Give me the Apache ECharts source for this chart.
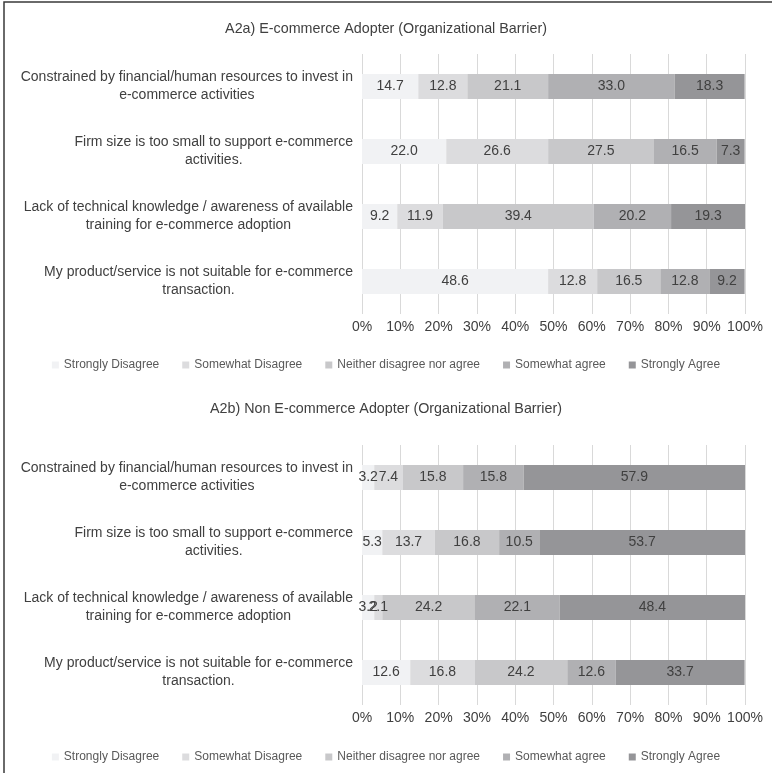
<!DOCTYPE html>
<html>
<head>
<meta charset="utf-8">
<script src="https://cdn.jsdelivr.net/npm/echarts@6/dist/echarts.min.js"></script>
<style>
html,body{margin:0;padding:0;background:#fff;}
#c{width:772px;height:773px;}
</style>
</head>
<body>
<div id="c"></div>
<script>
var categories = [
  "Constrained by financial/human resources to invest in\ne-commerce activities",
  "Firm size is too small to support e-commerce\nactivities.",
  "Lack of technical knowledge / awareness of available\ntraining for e-commerce adoption",
  "My product/service is not suitable for e-commerce\ntransaction."
];
var levels = ["Strongly Disagree", "Somewhat Disagree", "Neither disagree nor agree", "Somewhat agree", "Strongly Agree"];
var titles = ["A2a) E-commerce Adopter (Organizational Barrier)", "A2b) Non E-commerce Adopter (Organizational Barrier)"];
var xTicks = [0, 10, 20, 30, 40, 50, 60, 70, 80, 90, 100];

// Panel A2a (adopters)
var adoptStronglyDisagree = [14.7, 22.0, 9.2, 48.6];
var adoptSomewhatDisagree = [12.8, 26.6, 11.9, 12.8];
var adoptNeither = [21.1, 27.5, 39.4, 16.5];
var adoptSomewhatAgree = [33.0, 16.5, 20.2, 12.8];
var adoptStronglyAgree = [18.3, 7.3, 19.3, 9.2];

// Panel A2b (non adopters)
var nonStronglyDisagree = [3.2, 5.3, 3.2, 12.6];
var nonSomewhatDisagree = [7.4, 13.7, 2.1, 16.8];
var nonNeither = [15.8, 16.8, 24.2, 24.2];
var nonSomewhatAgree = [15.8, 10.5, 22.1, 12.6];
var nonStronglyAgree = [57.9, 53.7, 48.4, 33.7];

var panels = [
  [adoptStronglyDisagree, adoptSomewhatDisagree, adoptNeither, adoptSomewhatAgree, adoptStronglyAgree],
  [nonStronglyDisagree, nonSomewhatDisagree, nonNeither, nonSomewhatAgree, nonStronglyAgree]
];
var colors = ["#f1f2f4", "#dcdcde", "#c8c8ca", "#b0b0b3", "#959598"];
var font = "Liberation Sans, Arial, sans-serif";
var textColor = "#404040";

var gridTops = [54, 445];
var gridH = 260;

var series = [];
panels.forEach(function (pd, p) {
  pd.forEach(function (vals, i) {
    series.push({
      type: 'bar',
      name: levels[i],
      stack: 'p' + p,
      xAxisIndex: p,
      yAxisIndex: p,
      data: vals,
      barWidth: 25,
      itemStyle: { color: colors[i] },
      emphasis: { disabled: true },
      label: {
        show: true,
        position: 'inside',
        fontFamily: font,
        fontSize: 14,
        color: textColor,
        formatter: function (d) { return d.value.toFixed(1); }
      }
    });
  });
});

var xAxes = [0, 1].map(function (p) {
  return {
    type: 'value', gridIndex: p, min: 0, max: 100, interval: 10,
    axisLine: { show: false }, axisTick: { show: false },
    splitLine: { lineStyle: { color: '#d9d9d9', width: 1 } },
    axisLabel: {
      fontFamily: font, fontSize: 14, color: textColor, margin: 6,
      formatter: function (v) { return xTicks.indexOf(v) >= 0 ? v + '%' : ''; }
    }
  };
});
var yAxes = [0, 1].map(function (p) {
  return {
    type: 'category', gridIndex: p, data: categories, inverse: true,
    axisLine: { show: false }, axisTick: { show: false },
    axisLabel: {
      margin: 9, align: 'right',
      fontFamily: font, fontSize: 14, color: textColor, lineHeight: 18,
      formatter: function (v) {
        return v.split('\n').map(function (l) { return '{c|' + l + '}'; }).join('\n');
      },
      rich: { c: { align: 'center', fontFamily: font, fontSize: 14, color: textColor, lineHeight: 18 } }
    }
  };
});

var option = {
  animation: false,
  backgroundColor: '#ffffff',
  title: titles.map(function (t, p) {
    return {
      text: t, left: 'center', top: [22, 402][p], padding: 0,
      textStyle: { fontFamily: font, fontSize: 14.3, fontWeight: 'normal', color: textColor }
    };
  }),
  legend: [0, 1].map(function (p) {
    return {
      data: levels, left: 'center', top: [359, 751][p], padding: 0,
      itemWidth: 7, itemHeight: 7, itemGap: 23, icon: 'rect',
      selectedMode: false,
      textStyle: { fontFamily: font, fontSize: 12, color: '#595959', padding: [0, 0, 0, 0] }
    };
  }),
  grid: gridTops.map(function (t) {
    return { left: 362, right: 27, top: t, height: gridH, containLabel: false };
  }),
  xAxis: xAxes,
  yAxis: yAxes,
  series: series,
  graphic: [{
    type: 'rect', silent: true,
    shape: { x: 4, y: 2, width: 800, height: 800 },
    style: { fill: 'none', stroke: '#3a3a3a', lineWidth: 1.5 }
  }]
};

var chart = echarts.init(document.getElementById('c'), null, { renderer: 'canvas' });
chart.setOption(option);
</script>
</body>
</html>
